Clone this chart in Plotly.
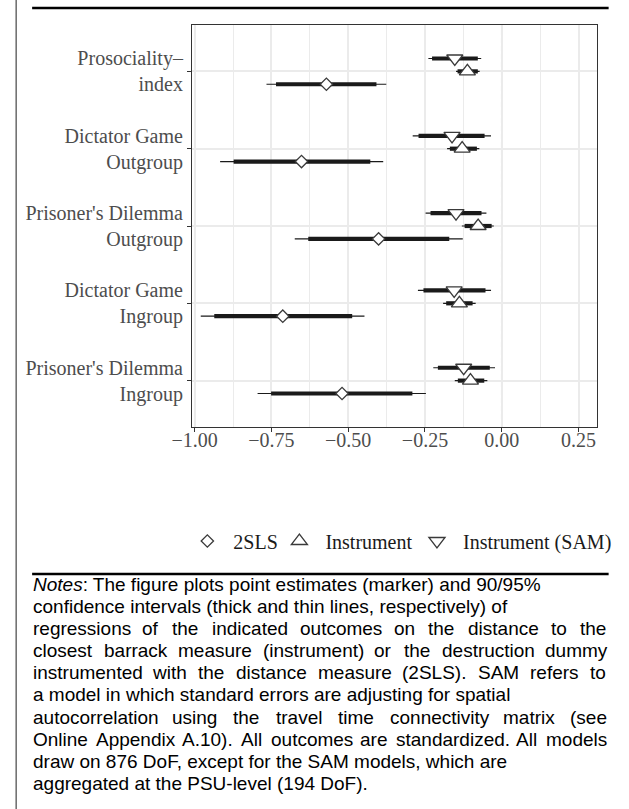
import re
import plotly.graph_objects as go

W, H = 629, 809
ML, MR, MT, MB = 192, 19, 25, 382
PW = W - ML - MR
PH = H - MT - MB


def px_x(px):
    return (px - ML) / PW


def px_y(py):
    return (H - MB - py) / PH


# ---------------- data ----------------
categories = [
    "Prisoner's Dilemma<br>Ingroup",
    "Dictator Game<br>Ingroup",
    "Prisoner's Dilemma<br>Outgroup",
    "Dictator Game<br>Outgroup",
    "Prosociality–<br>index",
]
cat_pos = [1, 2, 3, 4, 5]

series_names = ["2SLS", "Instrument", "Instrument (SAM)"]

tsls_est = [-0.520, -0.713, -0.401, -0.652, -0.571]
tsls_lo90 = [-0.751, -0.936, -0.630, -0.873, -0.735]
tsls_hi90 = [-0.291, -0.487, -0.171, -0.428, -0.408]
tsls_lo95 = [-0.795, -0.980, -0.674, -0.917, -0.766]
tsls_hi95 = [-0.247, -0.447, -0.127, -0.386, -0.376]

inst_est = [-0.102, -0.138, -0.077, -0.129, -0.112]
inst_lo90 = [-0.143, -0.181, -0.121, -0.169, -0.144]
inst_hi90 = [-0.057, -0.095, -0.033, -0.081, -0.078]
inst_lo95 = [-0.153, -0.191, -0.130, -0.178, -0.149]
inst_hi95 = [-0.047, -0.085, -0.026, -0.073, -0.072]

sam_est = [-0.124, -0.155, -0.149, -0.162, -0.153]
sam_lo90 = [-0.208, -0.255, -0.232, -0.271, -0.227]
sam_hi90 = [-0.039, -0.053, -0.066, -0.056, -0.078]
sam_lo95 = [-0.223, -0.273, -0.248, -0.290, -0.239]
sam_hi95 = [-0.022, -0.035, -0.050, -0.035, -0.067]

x_tickvals = [-1.0, -0.75, -0.5, -0.25, 0.0, 0.25]
x_ticktext = ["−1.00", "−0.75", "−0.50", "−0.25", "0.00", "0.25"]

notes_lines = [
    "<i>Notes</i>: The figure plots point estimates (marker) and 90/95%",
    "confidence intervals (thick and thin lines, respectively) of",
    "regressions of the indicated outcomes on the distance to the",
    "closest barrack measure (instrument) or the destruction dummy",
    "instrumented with the distance measure (2SLS). SAM refers to",
    "a model in which standard errors are adjusting for spatial",
    "autocorrelation using the travel time connectivity matrix (see",
    "Online Appendix A.10). All outcomes are standardized. All models",
    "draw on 876 DoF, except for the SAM models, which are",
    "aggregated at the PSU-level (194 DoF).",
]
notes_justified = [False, False, True, True, True, False, True, True, False, False]

# ---------------- styling ----------------
SERIF = "Liberation Serif, Times New Roman, serif"
SANS = "Liberation Sans, Arial, Helvetica, sans-serif"
LINE_COL = "#1a1a1a"
MARK_EDGE = "#3a3a3a"
NOTE_SIZE = 19
NOTE_LEFT = 27
NOTE_RIGHT = 618
NOTE_TOP = 584
NOTE_STEP = 22.2

# Arial / Liberation Sans advance widths (1/1000 em)
AW = {" ": 278, "!": 278, "%": 889, "'": 191, "(": 333, ")": 333, ",": 278, "-": 333,
      ".": 278, "/": 278, ":": 278, "A": 667, "B": 667, "C": 722, "D": 722, "E": 667,
      "F": 611, "G": 778, "H": 722, "I": 278, "J": 500, "K": 667, "L": 556, "M": 833,
      "N": 722, "O": 778, "P": 667, "Q": 778, "R": 722, "S": 667, "T": 611, "U": 722,
      "V": 667, "W": 944, "X": 667, "Y": 667, "Z": 611, "a": 556, "b": 556, "c": 500,
      "d": 556, "e": 556, "f": 278, "g": 556, "h": 556, "i": 222, "j": 222, "k": 500,
      "l": 222, "m": 833, "n": 556, "o": 556, "p": 556, "q": 556, "r": 333, "s": 500,
      "t": 278, "u": 556, "v": 500, "w": 722, "x": 500, "y": 500, "z": 500}


def tw(s, size):
    s = re.sub(r"<[^>]+>", "", s)
    return sum(AW.get(c, 556) for c in s) / 1000.0 * size


series = [
    ("2SLS", tsls_est, tsls_lo90, tsls_hi90, tsls_lo95, tsls_hi95, -1 / 6, "diamond", 9.5, 207),
    ("Instrument", inst_est, inst_lo90, inst_hi90, inst_lo95, inst_hi95, 0.0, "triangle-up", 14, 302),
    ("Instrument (SAM)", sam_est, sam_lo90, sam_hi90, sam_lo95, sam_hi95, 1 / 6, "triangle-down", 14, 444),
]


def seg(lo, hi, ypos):
    xs, ys = [], []
    for a, b, y in zip(lo, hi, ypos):
        xs += [a, b, None]
        ys += [y, y, None]
    return xs, ys


fig = go.Figure()

for name, est, lo90, hi90, lo95, hi95, off, sym, sz, lx in series:
    ypos = [p + off for p in cat_pos]
    xs, ys = seg(lo95, hi95, ypos)
    fig.add_trace(go.Scatter(x=xs, y=ys, mode="lines", line=dict(color=LINE_COL, width=1.2),
                             showlegend=False, hoverinfo="skip"))
for name, est, lo90, hi90, lo95, hi95, off, sym, sz, lx in series:
    ypos = [p + off for p in cat_pos]
    xs, ys = seg(lo90, hi90, ypos)
    fig.add_trace(go.Scatter(x=xs, y=ys, mode="lines", line=dict(color=LINE_COL, width=4.2),
                             showlegend=False, hoverinfo="skip"))

legend_ids = ["legend", "legend2", "legend3"]
legend_cfg = {}
LEG_Y = 541
for (name, est, lo90, hi90, lo95, hi95, off, sym, sz, lx), lid in zip(series, legend_ids):
    ypos = [p + off for p in cat_pos]
    fig.add_trace(go.Scatter(x=est, y=ypos, mode="markers", name=name, legend=lid,
                             marker=dict(symbol=sym, size=sz, color="white",
                                         line=dict(color=MARK_EDGE, width=1.3))))
    legend_cfg[lid] = dict(orientation="h", x=px_x(lx - 26), y=px_y(LEG_Y),
                           xanchor="left", yanchor="middle", itemwidth=42,
                           font=dict(family=SERIF, size=20, color="#1a1a1a"),
                           bgcolor="rgba(0,0,0,0)", borderwidth=0)

shapes = [
    dict(type="line", xref="x", yref="paper", x0=0, x1=0, y0=0, y1=1,
         line=dict(color="#9a9a9a", width=1.6, dash="5px,3px"), layer="below"),
    dict(type="line", xref="paper", yref="paper", x0=px_x(27), x1=px_x(622),
         y0=px_y(8), y1=px_y(8), line=dict(color="black", width=2.5)),
    dict(type="line", xref="paper", yref="paper", x0=px_x(27), x1=px_x(622),
         y0=px_y(574), y1=px_y(574), line=dict(color="black", width=2.5)),
    dict(type="line", xref="paper", yref="paper", x0=px_x(10.5), x1=px_x(10.5),
         y0=px_y(0), y1=px_y(809), line=dict(color="#444444", width=1.2)),
]

annotations = []
for i, (line, just) in enumerate(zip(notes_lines, notes_justified)):
    ycen = NOTE_TOP + NOTE_STEP * i
    words = line.split(" ")
    if not just:
        annotations.append(dict(
            text=line, xref="paper", yref="paper", x=px_x(NOTE_LEFT), y=px_y(ycen),
            xanchor="left", yanchor="middle", showarrow=False, borderpad=0,
            font=dict(family=SANS, size=NOTE_SIZE, color="black"), align="left"))
        continue
    widths = [tw(w, NOTE_SIZE) for w in words]
    gap = (NOTE_RIGHT - NOTE_LEFT - sum(widths)) / (len(words) - 1)
    xcur = NOTE_LEFT
    for w, wd in zip(words, widths):
        annotations.append(dict(
            text=w, xref="paper", yref="paper", x=px_x(xcur), y=px_y(ycen),
            xanchor="left", yanchor="middle", showarrow=False, borderpad=0,
            font=dict(family=SANS, size=NOTE_SIZE, color="black"), align="left"))
        xcur += wd + gap

fig.update_layout(
    width=W, height=H,
    margin=dict(l=ML, r=MR, t=MT, b=MB, pad=0),
    paper_bgcolor="white", plot_bgcolor="white",
    showlegend=True,
    shapes=shapes,
    annotations=annotations,
    **legend_cfg,
)

fig.update_xaxes(
    range=[-1.0085, 0.310], tickvals=x_tickvals, ticktext=x_ticktext,
    showgrid=True, gridcolor="#ebebeb", gridwidth=1.5,
    minor=dict(dtick=0.125, tick0=0.125, showgrid=True, gridcolor="#ebebeb", gridwidth=0.8),
    zeroline=False, showline=True, mirror=True, linecolor="#333333", linewidth=1.2,
    ticks="outside", ticklen=4, tickcolor="#333333", tickwidth=1.2,
    ticklabelstandoff=-9,
    tickfont=dict(family=SERIF, size=20, color="#4d4d4d"),
)
fig.update_yaxes(
    range=[0.4, 5.6], tickvals=cat_pos, ticktext=categories,
    showgrid=True, gridcolor="#ebebeb", gridwidth=1.5,
    zeroline=False, showline=True, mirror=True, linecolor="#333333", linewidth=1.2,
    ticks="outside", ticklen=4, tickcolor="#333333", tickwidth=1.2,
    tickfont=dict(family=SERIF, size=20, color="#4d4d4d"),
)

fig.write_html("out.html",
               config={"displayModeBar": False},
               post_script="document.body.style.margin='0px';document.body.style.padding='0px';")
